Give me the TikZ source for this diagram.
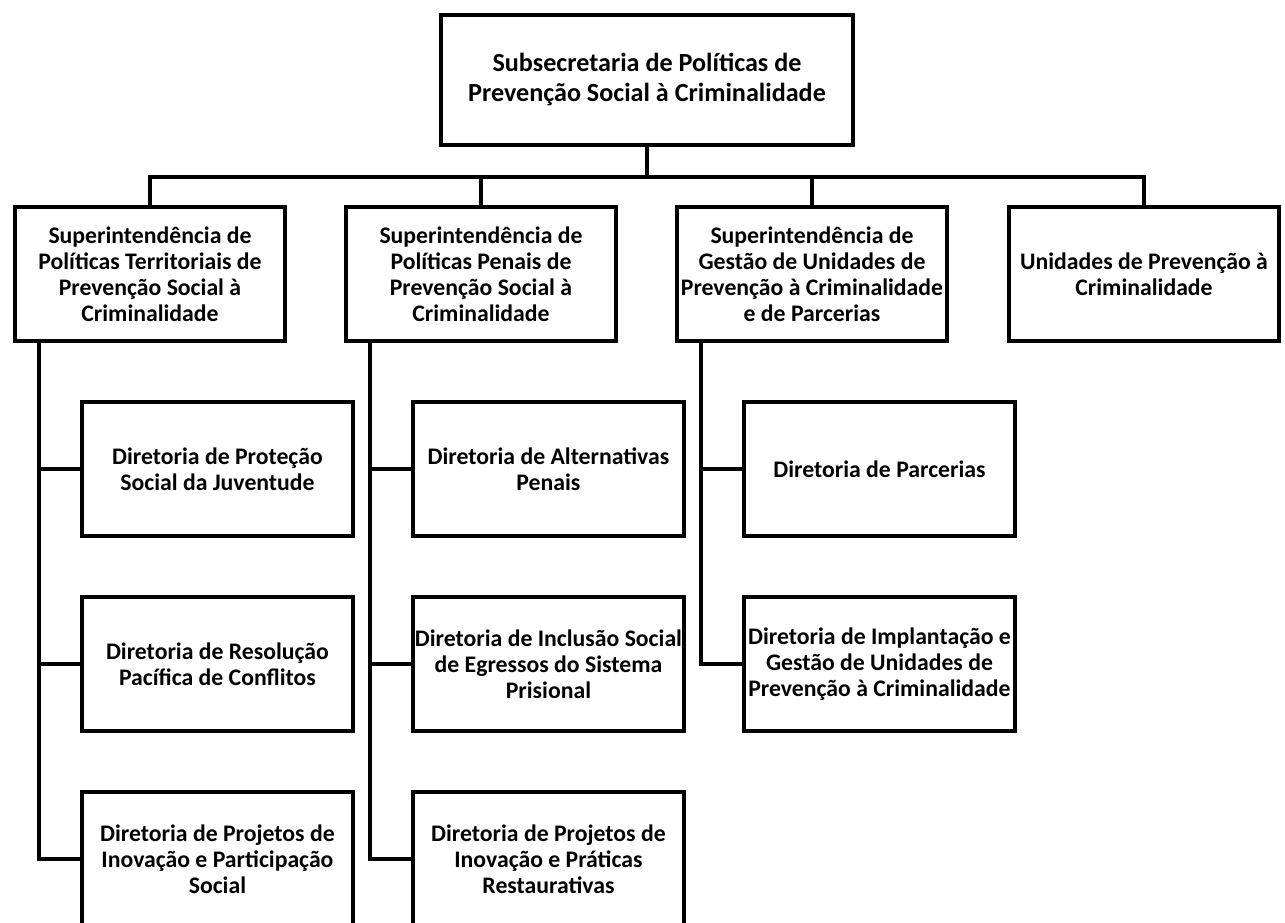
\documentclass[tikz,border=0pt]{standalone}
\usepackage{fontspec}
\setmainfont{Carlito}
\usetikzlibrary{positioning}

\tikzset{
  unit/.style={draw, line width=3pt, align=center, inner sep=1pt,
    minimum width=203pt, minimum height=101pt,
    font=\bfseries\fontsize{17.8}{19.5}\selectfont},
  head/.style={unit, minimum width=309pt, minimum height=97.5pt,
    font=\bfseries\fontsize{19.6}{22.5}\selectfont},
  link/.style={line width=3pt}
}

\begin{document}
\begin{tikzpicture}[x=0.75pt,y=-0.75pt,on grid]
  \clip (0,0) rectangle (1285,923);

  \node[head] (sub) at (647,80) {Subsecretaria de Políticas de\\Prevenção Social à Criminalidade};

  \node[unit] (s1) at (150,274) {Superintendência de\\Políticas Territoriais de\\Prevenção Social à\\Criminalidade};
  \node[unit] (s2) [right=248.25pt of s1] {Superintendência de\\Políticas Penais de\\Prevenção Social à\\Criminalidade};
  \node[unit] (s3) [right=248.25pt of s2] {Superintendência de\\Gestão de Unidades de\\Prevenção à Criminalidade\\e de Parcerias};
  \node[unit] (s4) [right=249pt of s3] {Unidades de Prevenção à\\Criminalidade};

  \node[unit] (d11) [below right=146.25pt and 50.6pt of s1] {Diretoria de Proteção\\Social da Juventude};
  \node[unit] (d12) [below=146.25pt of d11] {Diretoria de Resolução\\Pacífica de Conflitos};
  \node[unit] (d13) [below=146.25pt of d12] {Diretoria de Projetos de\\Inovação e Participação\\Social};

  \node[unit] (d21) [below right=146.25pt and 50.6pt of s2] {Diretoria de Alternativas\\Penais};
  \node[unit] (d22) [below=146.25pt of d21] {Diretoria de Inclusão Social\\de Egressos do Sistema\\Prisional};
  \node[unit] (d23) [below=146.25pt of d22] {Diretoria de Projetos de\\Inovação e Práticas\\Restaurativas};

  \node[unit] (d31) [below right=146.25pt and 50.6pt of s3] {Diretoria de Parcerias};
  \node[unit] (d32) [below=146.25pt of d31] {Diretoria de Implantação e\\Gestão de Unidades de\\Prevenção à Criminalidade};

  % subsecretaria -> superintendencias
  \foreach \s in {s1,s2,s3,s4}
    \draw[link] (sub.south) -- ++(0,30) -| (\s.north);

  % superintendencias -> diretorias
  \foreach \s/\d in {s1/d11,s1/d12,s1/d13,s2/d21,s2/d22,s2/d23,s3/d31,s3/d32}
    \draw[link] (\s.south west) ++(20pt,0) |- (\d.west);
\end{tikzpicture}
\end{document}
